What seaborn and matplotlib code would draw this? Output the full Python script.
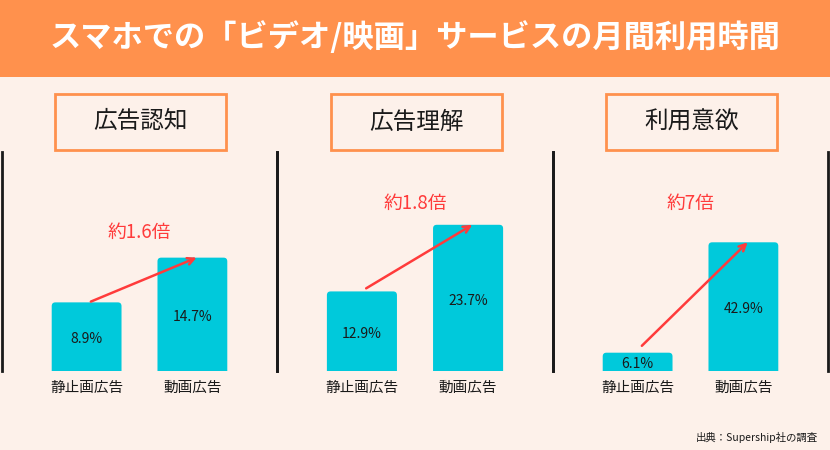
import matplotlib
matplotlib.use("Agg")
import matplotlib.pyplot as plt
import seaborn as sns
import pandas as pd
from matplotlib.patches import Rectangle, FancyBboxPatch

# data
title = "スマホでの「ビデオ/映画」サービスの月間利用時間"
panels = ["広告認知", "広告理解", "利用意欲"]
categories = ["静止画広告", "動画広告"]
still_values = [8.9, 12.9, 6.1]
video_values = [14.7, 23.7, 42.9]
ratio_labels = ["約1.6倍", "約1.8倍", "約7倍"]
source = "出典：Supership社の調査"

BG = "#FDF1EA"
ORANGE = "#FF914D"
CYAN = "#00C9DB"
RED = "#FF3B3B"

sns.set_theme(style="white")
plt.rcParams["font.family"] = ["Noto Sans CJK JP", "DejaVu Sans"]

W, H = 830, 450
fig = plt.figure(figsize=(W / 100, H / 100), dpi=100, facecolor=BG)

def fx(px):
    return px / W

def fy(py):
    return 1 - py / H

# header band
fig.patches.append(Rectangle((0, fy(77)), 1, 77 / H, transform=fig.transFigure,
                             facecolor=ORANGE, edgecolor="none", zorder=0))
fig.text(0.5, fy(38), title, color="white", fontsize=22.5, fontweight="bold",
         ha="center", va="center")

ax_left = [2, 277, 553]
ax_right = [277, 553, 828]
ylims = [28.4, 35.5, 73.0]
ratio_y = [18.0, 27.1, 56.0]
tail_lift = [0.1, 0.5, 2.3]
top_px, bottom_px = 152, 371

for i in range(3):
    ax = fig.add_axes([fx(ax_left[i]), fy(bottom_px), fx(ax_right[i] - ax_left[i]),
                       (bottom_px - top_px) / H])
    ax.set_facecolor("none")
    df = pd.DataFrame({"type": categories, "value": [still_values[i], video_values[i]]})
    sns.barplot(data=df, x="type", y="value", color=CYAN, width=0.66,
                saturation=1, ax=ax)
    ax.set_xlim(-0.8, 1.8)
    ax.set_ylim(0, ylims[i])

    # rounded top corners: swap each bar for a rounded box of the same size
    aspect = (ylims[i] / (bottom_px - top_px)) / (1 / 106)
    for p in list(ax.patches):
        x0, w, h = p.get_x(), p.get_width(), p.get_height()
        r = 0.035
        box = FancyBboxPatch((x0 + r, -r * aspect * 2), w - 2 * r, h + r * aspect * 2 - r * aspect,
                             boxstyle=f"round,pad={r}", mutation_aspect=aspect,
                             facecolor=CYAN, edgecolor="none", zorder=2)
        ax.add_patch(box)
        p.set_visible(False)

    for j, v in enumerate([still_values[i], video_values[i]]):
        ax.text(j, v / 2 - ylims[i] * 0.012, f"{v}%", ha="center", va="center",
                fontsize=10, color="#1a1a1a", zorder=3)

    ax.annotate("", xy=(1.04, video_values[i]),
                xytext=(0.04, still_values[i] + tail_lift[i]),
                arrowprops=dict(arrowstyle="->", color=RED, lw=1.8,
                                mutation_scale=12, shrinkA=0, shrinkB=0),
                zorder=4)
    ax.text(0.5, ratio_y[i], ratio_labels[i], ha="center", va="center",
            fontsize=13.5, color=RED)

    ax.set_xlabel("")
    ax.set_ylabel("")
    ax.set_yticks([])
    ax.tick_params(axis="x", length=0, pad=7, labelsize=10.5, labelcolor="#1a1a1a")
    for side in ["top", "bottom"]:
        ax.spines[side].set_visible(False)
    for side in ["left", "right"]:
        ax.spines[side].set_color("#1a1a1a")
        ax.spines[side].set_linewidth(2)

    # panel heading box
    cx = (ax_left[i] + ax_right[i]) / 2 + 1
    fig.patches.append(Rectangle((fx(cx - 85.5), fy(150)), fx(171), 56 / H,
                                 transform=fig.transFigure, facecolor="none",
                                 edgecolor=ORANGE, linewidth=2))
    fig.text(fx(cx), fy(122), panels[i], ha="center", va="center",
             fontsize=17, color="#1a1a1a")

fig.text(fx(818), fy(437), source, ha="right", va="center", fontsize=7.5,
         color="#1a1a1a")

fig.savefig("out.png", dpi=100, facecolor=BG)
